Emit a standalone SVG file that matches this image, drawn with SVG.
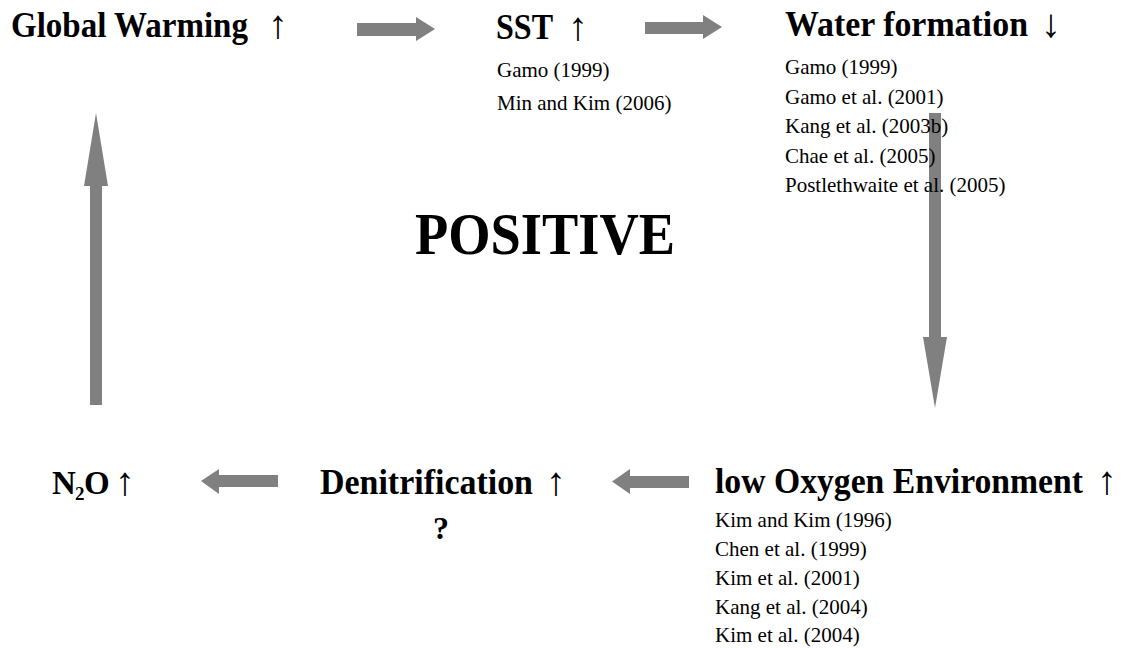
<svg xmlns="http://www.w3.org/2000/svg" width="1125" height="648" viewBox="0 0 1125 648">
<style>
.bg{fill:#ffffff}
.arr{fill:#808080}
.title{font-family:"Liberation Serif","Times New Roman",serif;font-weight:bold;font-size:35px;fill:#000}
.sym{font-family:"Liberation Serif","Times New Roman",serif;font-weight:normal;font-size:40px;fill:#000;text-anchor:middle}
.ref{font-family:"Liberation Serif","Times New Roman",serif;font-size:21px;fill:#000}
.big{font-family:"Liberation Serif","Times New Roman",serif;font-weight:bold;font-size:59px;fill:#000}
</style>
<rect class="bg" x="0" y="0" width="1125" height="648"/>
<g id="connectors">
<polygon class="arr" points="357,23 416,23 416,17 435,29 416,41 416,36 357,36"/>
<polygon class="arr" points="645,22 703,22 703,15 722,27 703,39 703,34 645,34"/>
<polygon class="arr" points="929,113 941,113 941,337 947,337 935,408 923,337 929,337"/>
<polygon class="arr" points="689,476 630,476 630,469 612,481.5 630,494 630,488 689,488"/>
<polygon class="arr" points="278,475 219,475 219,469 201,481 219,494 219,487 278,487"/>
<polygon class="arr" points="90,405 90,186 84,186 96,113 108,186 102,186 102,405"/>
</g>
<g id="node-global-warming">
<text class="title" x="11" y="37" textLength="237" lengthAdjust="spacingAndGlyphs">Global Warming</text>
<text class="sym" x="278" y="38">↑</text>
</g>
<g id="node-sst">
<text class="title" x="496" y="39" textLength="57" lengthAdjust="spacingAndGlyphs">SST</text>
<text class="sym" x="578" y="40">↑</text>
<text class="ref" x="497" y="77">Gamo (1999)</text>
<text class="ref" x="497" y="110">Min and Kim (2006)</text>
</g>
<g id="node-water-formation">
<text class="title" x="785" y="36" textLength="243" lengthAdjust="spacingAndGlyphs">Water formation</text>
<text class="sym" x="1051" y="37">↓</text>
<text class="ref" x="785" y="74">Gamo (1999)</text>
<text class="ref" x="785" y="104">Gamo et al. (2001)</text>
<text class="ref" x="785" y="133">Kang et al. (2003b)</text>
<text class="ref" x="785" y="163">Chae et al. (2005)</text>
<text class="ref" x="785" y="192">Postlethwaite et al. (2005)</text>
</g>
<g id="node-low-oxygen">
<text class="title" x="715" y="493" textLength="368" lengthAdjust="spacingAndGlyphs">low Oxygen Environment</text>
<text class="sym" x="1107" y="494">↑</text>
<text class="ref" x="715" y="527">Kim and Kim (1996)</text>
<text class="ref" x="715" y="556">Chen et al. (1999)</text>
<text class="ref" x="715" y="585">Kim et al. (2001)</text>
<text class="ref" x="715" y="614">Kang et al. (2004)</text>
<text class="ref" x="715" y="642">Kim et al. (2004)</text>
</g>
<g id="node-denitrification">
<text class="title" x="320" y="494" textLength="213" lengthAdjust="spacingAndGlyphs">Denitrification</text>
<text class="sym" x="556" y="495">↑</text>
<text class="title" x="433" y="539" style="font-size:32px">?</text>
</g>
<g id="node-n2o">
<text class="title" x="52" y="494" style="font-size:33px">N<tspan x="75" dy="6" style="font-size:19px">2</tspan><tspan x="84" dy="-6">O</tspan></text>
<text class="sym" x="125" y="495">↑</text>
</g>
<g id="node-positive">
<text class="big" x="415" y="254" textLength="260" lengthAdjust="spacingAndGlyphs">POSITIVE</text>
</g>
</svg>
